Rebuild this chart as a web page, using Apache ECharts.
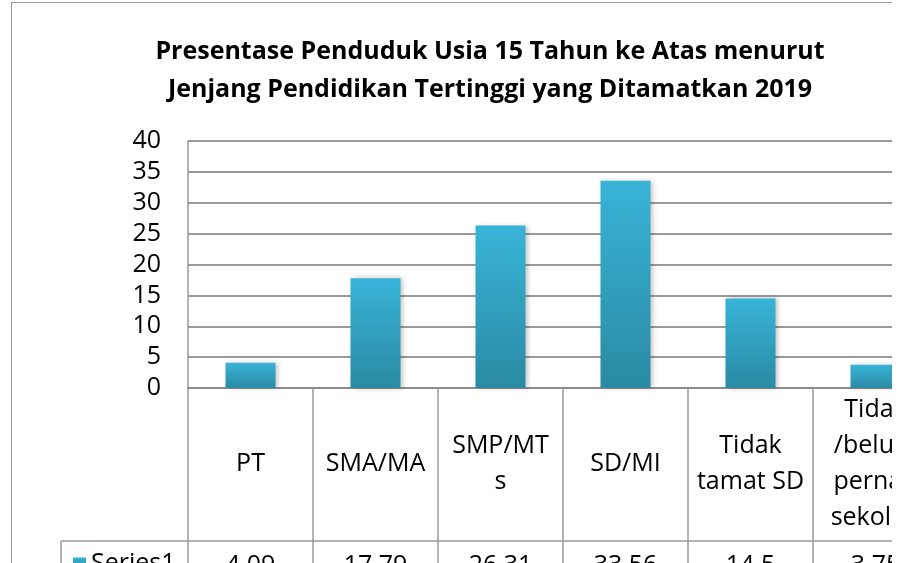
<!DOCTYPE html>
<html>
<head>
<meta charset="utf-8">
<script src="https://cdn.jsdelivr.net/npm/echarts@6/dist/echarts.min.js"></script>
<style>
  html, body { margin: 0; padding: 0; background: #fff; overflow: hidden; }
  #wrap { position: relative; width: 892px; height: 563px; overflow: hidden; }
  #chart { position: absolute; left: 11px; top: 2px; width: 958px; height: 640px;
           border: 1.5px solid #9a9a9a; box-sizing: border-box; }
</style>
</head>
<body>
<div id="wrap"><div id="chart"></div></div>
<script>
// data
const categories = ['PT', 'SMA/MA', 'SMP/MTs', 'SD/MI', 'Tidak tamat SD', 'Tidak /belum pernah sekolah'];
// tick labels as they wrap in the picture
const catLabels = ['PT', 'SMA/MA', 'SMP/MT\ns', 'SD/MI', 'Tidak\ntamat SD', 'Tidak\n/belum\npernah\nsekolah'];
const values = [4.09, 17.79, 26.31, 33.56, 14.5, 3.75];
const valueLabels = ['4.09', '17.79', '26.31', '33.56', '14.5', '3.75'];
const yTicks = [0, 40, 5];

const font = '"Open Sans", "Noto Sans", sans-serif';
const lineGray = '#9a9a9a';

const chart = echarts.init(document.getElementById('chart'));

const option = {
  animation: false,
  textStyle: { fontFamily: font, color: '#000' },
  title: {
    text: 'Presentase Penduduk Usia 15 Tahun ke Atas menurut\nJenjang Pendidikan Tertinggi yang Ditamatkan 2019',
    left: 'center',
    top: 25,
    textStyle: { fontFamily: font, fontSize: 25, fontWeight: 'bold', color: '#000', lineHeight: 38 }
  },
  legend: {
    left: 56,
    top: 543,
    icon: 'rect',
    itemWidth: 13,
    itemHeight: 12,
    itemGap: 8,
    textStyle: { fontFamily: font, fontSize: 25, color: '#000' },
    data: ['Series1']
  },
  grid: { left: 176, top: 138, width: 750, height: 247 },
  xAxis: [
    {
      type: 'category',
      data: categories,
      boundaryGap: true,
      axisLine: { show: true, lineStyle: { color: '#8c8c8c', width: 2 } },
      axisTick: { show: true, interval: 0, length: 300, lineStyle: { color: lineGray, width: 1.5 } },
      axisLabel: {
        interval: 0,
        formatter: (v, i) => catLabels[i],
        fontFamily: font,
        fontSize: 25,
        lineHeight: 36,
        color: '#000',
        verticalAlign: 'middle',
        margin: 76
      }
    },
    {
      type: 'category',
      data: categories,
      position: 'bottom',
      offset: 153,
      axisLine: { show: true, lineStyle: { color: lineGray, width: 1.5 } },
      axisTick: { show: false },
      axisLabel: {
        interval: 0,
        formatter: (v, i) => valueLabels[i],
        fontFamily: font,
        fontSize: 25,
        color: '#000',
        verticalAlign: 'top',
        margin: 12
      }
    }
  ],
  yAxis: {
    type: 'value',
    min: yTicks[0],
    max: yTicks[1],
    interval: yTicks[2],
    axisLine: { show: true, lineStyle: { color: lineGray, width: 1.5 } },
    axisTick: { show: false },
    axisLabel: { fontFamily: font, fontSize: 25, color: '#000', margin: 27 },
    splitLine: { show: true, lineStyle: { color: lineGray, width: 2 } }
  },
  graphic: [
    // row-header cell of the data table
    { type: 'line', shape: { x1: 49, y1: 538, x2: 176, y2: 538 }, style: { stroke: lineGray, lineWidth: 1.5 } },
    { type: 'line', shape: { x1: 49, y1: 538, x2: 49, y2: 640 }, style: { stroke: lineGray, lineWidth: 1.5 } }
  ],
  series: [
    {
      name: 'Series1',
      type: 'bar',
      data: values,
      barWidth: '40%',
      itemStyle: {
        color: new echarts.graphic.LinearGradient(0, 0, 0, 1, [
          { offset: 0, color: '#38b4d8' },
          { offset: 1, color: '#2a8aa3' }
        ]),
        shadowBlur: 5,
        shadowColor: 'rgba(0,0,0,0.25)',
        shadowOffsetX: 2
      }
    }
  ]
};

chart.setOption(option);
</script>
</body>
</html>
